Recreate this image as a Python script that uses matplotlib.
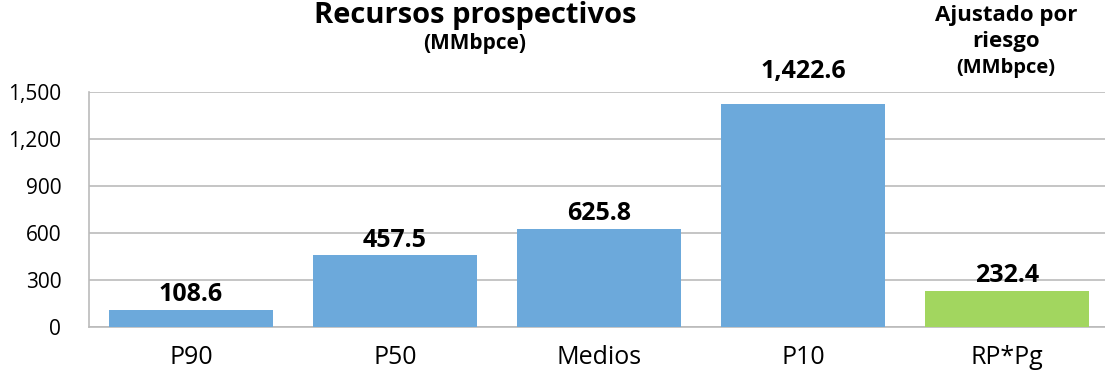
import matplotlib.pyplot as plt

categories = ["P90", "P50", "Medios", "P10", "RP*Pg"]
values = [108.6, 457.5, 625.8, 1422.6, 232.4]
value_labels = ["108.6", "457.5", "625.8", "1,422.6", "232.4"]
yticks = [0, 300, 600, 900, 1200, 1500]
ytick_labels = ["0", "300", "600", "900", "1,200", "1,500"]

blue = "#6CA9DB"
green = "#A2D65F"
colors = [blue, blue, blue, blue, green]

plt.rcParams["font.family"] = ["Open Sans", "DejaVu Sans"]

fig = plt.figure(figsize=(11.05, 3.79), dpi=100)
ax = fig.add_axes([89 / 1105, 52 / 379, 1016 / 1105, 235 / 379])

x = list(range(len(categories)))
bars = ax.bar(x, values, width=0.8, color=colors, zorder=3)

top = 1500
for b, lab in zip(bars, value_labels):
    h = b.get_height()
    # label of the tallest bar sits above the top gridline
    if h > 0.9 * top:
        y, off = top, 6
    else:
        y, off = h, 2
    ax.annotate(lab, (b.get_x() + b.get_width() / 2, y),
                xytext=(0, off), textcoords="offset points",
                ha="center", va="bottom", fontsize=18, fontweight="bold")

ax.set_xlim(-0.5, 4.48)
ax.set_ylim(0, top)
ax.set_yticks(yticks)
ax.set_yticklabels(ytick_labels, fontsize=15)
ax.set_xticks(x)
ax.set_xticklabels(categories, fontsize=18)
ax.tick_params(axis="x", length=0, pad=13)
ax.tick_params(axis="y", length=0, pad=20)
ax.yaxis.grid(True, color="#BBBBBB", linewidth=1.2, zorder=0)

for side in ["top", "right"]:
    ax.spines[side].set_visible(False)
ax.spines["left"].set_color("#BBBBBB")
ax.spines["bottom"].set_color("#BBBBBB")
ax.spines["left"].set_linewidth(1.2)
ax.spines["bottom"].set_linewidth(1.2)

fig.text(475 / 1105, 1 - 15 / 379, "Recursos prospectivos", ha="center", va="center",
         fontsize=21, fontweight="bold")
fig.text(475 / 1105, 1 - 44 / 379, "(MMbpce)", ha="center", va="center",
         fontsize=15, fontweight="bold")
fig.text(1006 / 1105, 1 - 16 / 379, "Ajustado por", ha="center", va="center",
         fontsize=16, fontweight="bold")
fig.text(1006 / 1105, 1 - 41 / 379, "riesgo", ha="center", va="center",
         fontsize=16, fontweight="bold")
fig.text(1006 / 1105, 1 - 68 / 379, "(MMbpce)", ha="center", va="center",
         fontsize=14.5, fontweight="bold")

fig.savefig("out.png", dpi=100)
